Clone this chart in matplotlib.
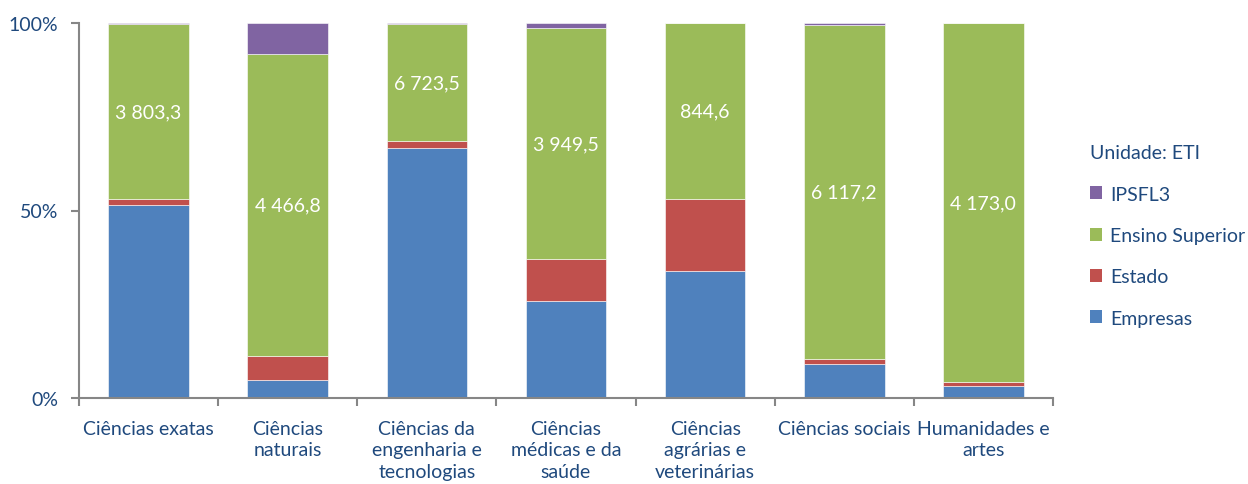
import numpy as np
import matplotlib.pyplot as plt
from matplotlib.patches import Patch

plt.rcParams['font.family'] = ['Lato', 'DejaVu Sans']

areas = ['Ciências exatas', 'Ciências\nnaturais', 'Ciências da\nengenharia e\ntecnologias',
         'Ciências\nmédicas e da\nsaúde', 'Ciências\nagrárias e\nveterinárias',
         'Ciências sociais', 'Humanidades e\nartes']

# researchers (ETI) by sector of execution
empresas = np.array([4203.2, 266.3, 14352.0, 1656.9, 608.7, 618.6, 135.3])
estado = np.array([130.6, 360.7, 409.4, 725.7, 347.6, 103.1, 52.4])
ensino_superior = np.array([3803.3, 4466.8, 6723.5, 3949.5, 844.6, 6117.2, 4173.0])
ipsfl = np.array([24.5, 455.0, 64.6, 89.9, 0.0, 34.4, 4.4])

series = [('Empresas', empresas, '#4F81BD'),
          ('Estado', estado, '#C0504D'),
          ('Ensino Superior', ensino_superior, '#9BBB59'),
          ('IPSFL3', ipsfl, '#8064A2')]

total = empresas + estado + ensino_superior + ipsfl
txt = '#1F497D'
axc = '#868686'
fs = 14

fig = plt.figure(figsize=(12.48, 4.85), dpi=100)
ax = fig.add_axes([79/1248, 86/485, (1053-79)/1248, (399-24)/485])

x = np.arange(len(areas))
bottom = np.zeros(len(areas))
handles = []
for name, vals, col in series:
    pct = vals / total * 100
    ax.bar(x, pct, 0.58, bottom=bottom, color=col, edgecolor='white', linewidth=0.4)
    if name == 'Ensino Superior':
        for xi, b, p, v in zip(x, bottom, pct, vals):
            lab = '{:,.1f}'.format(v).replace(',', ' ').replace('.', ',')
            ax.text(xi, b + p/2, lab, ha='center', va='center', color='white', fontsize=fs)
    bottom += pct
    handles.append(Patch(facecolor=col, label=name))

ax.set_xlim(-0.5, len(areas) - 0.5)
ax.set_ylim(0, 100)
ax.set_yticks([0, 50, 100])
ax.set_yticklabels(['0%', '50%', '100%'])
ax.set_xticks(x)
ax.set_xticklabels(areas, linespacing=1.3)
ax.set_xticks(np.arange(-0.5, len(areas)), minor=True)
ax.tick_params(axis='x', which='major', length=0, pad=16, labelsize=fs, labelcolor=txt)
ax.tick_params(axis='x', which='minor', length=6, width=1.5, color=axc, direction='out')
ax.tick_params(axis='y', length=6, width=1.5, color=axc, labelsize=fs, labelcolor=txt, pad=9)
for s in ['top', 'right']:
    ax.spines[s].set_visible(False)
for s in ['left', 'bottom']:
    ax.spines[s].set_color(axc)
    ax.spines[s].set_linewidth(1.5)

leg = fig.legend(handles=handles[::-1], loc='upper left', bbox_to_anchor=(1072/1248, 1 - 128/485),
                 title='Unidade: ETI', frameon=False, fontsize=fs, title_fontsize=fs,
                 handlelength=0.65, handleheight=0.65, handletextpad=0.4, labelspacing=1.25,
                 alignment='left', labelcolor=txt)
leg.get_title().set_color(txt)

fig.savefig('out.png', dpi=100)
